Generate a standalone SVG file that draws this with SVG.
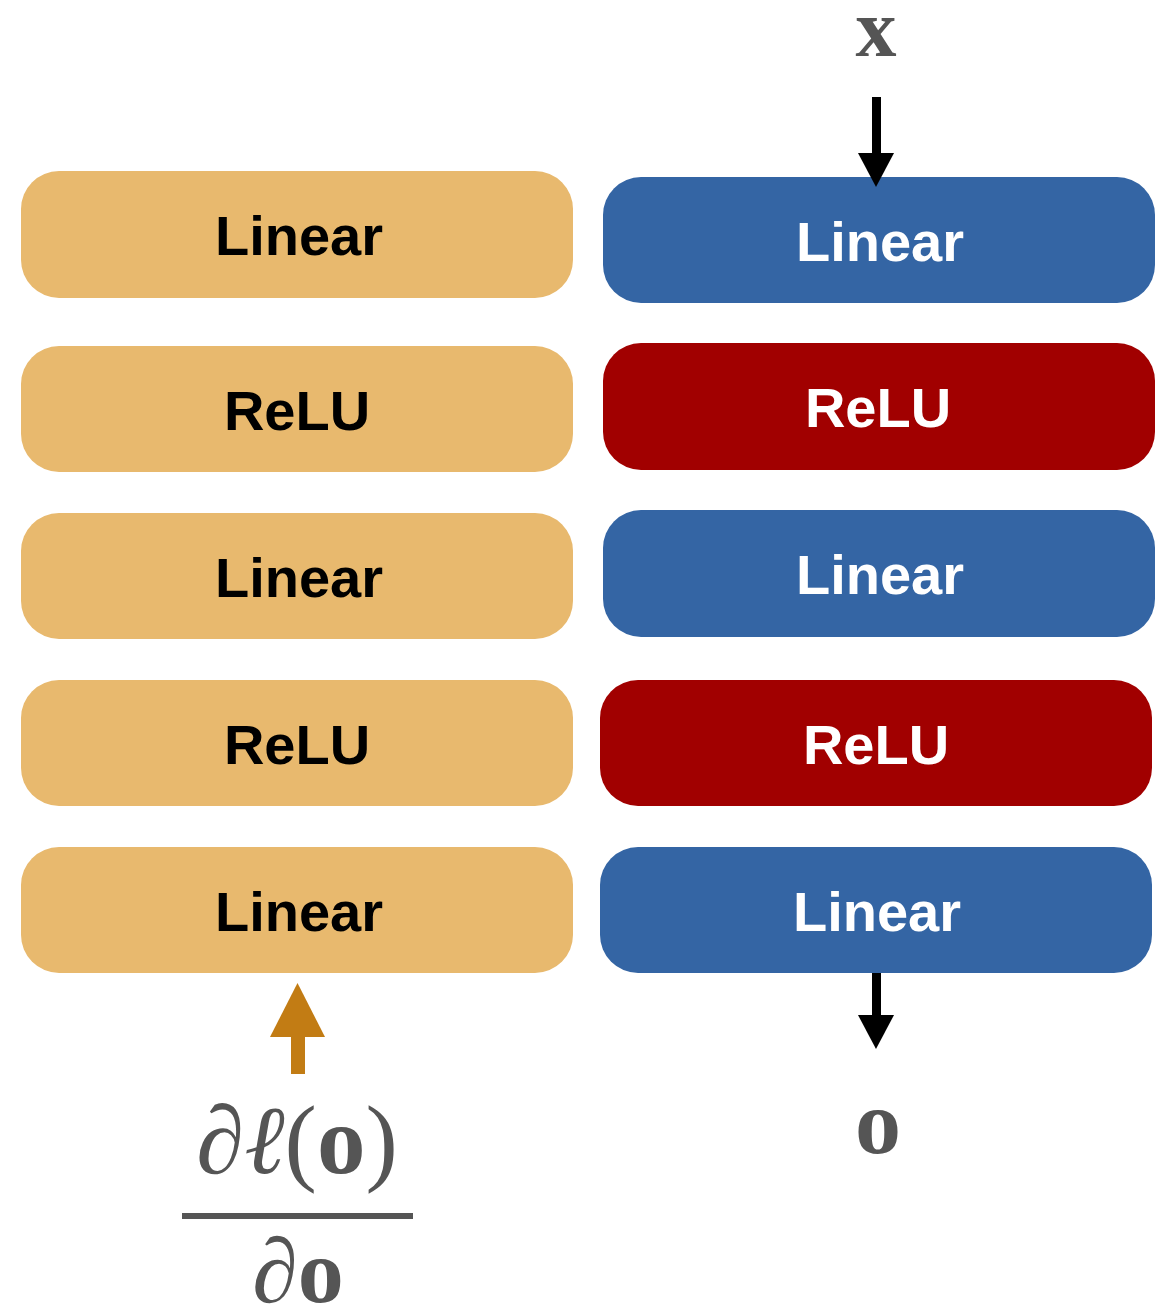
<svg xmlns="http://www.w3.org/2000/svg" width="1165" height="1313" viewBox="0 0 1165 1313">
<style>
.bk{fill:#E8B96E}
.lin{fill:#3465A4}
.rel{fill:#A10000}
.lbl{font-family:"Liberation Sans",Arial,sans-serif;font-weight:bold;font-size:56px;text-anchor:middle}
.dk{fill:#000}
.wt{fill:#fff}
.math{font-family:"Liberation Serif","DejaVu Serif",serif;fill:#555}
</style>
<g id="bwd1"><rect class="bk" x="21" y="171" width="552" height="127" rx="38"/><text class="lbl dk" x="299" y="255">Linear</text></g>
<g id="bwd2"><rect class="bk" x="21" y="346" width="552" height="126" rx="38"/><text class="lbl dk" x="297" y="430">ReLU</text></g>
<g id="bwd3"><rect class="bk" x="21" y="513" width="552" height="126" rx="38"/><text class="lbl dk" x="299" y="597">Linear</text></g>
<g id="bwd4"><rect class="bk" x="21" y="680" width="552" height="126" rx="38"/><text class="lbl dk" x="297" y="764">ReLU</text></g>
<g id="bwd5"><rect class="bk" x="21" y="847" width="552" height="126" rx="38"/><text class="lbl dk" x="299" y="931">Linear</text></g>
<g id="fwd1"><rect class="lin" x="603" y="177" width="552" height="126" rx="38"/><text class="lbl wt" x="880" y="261">Linear</text></g>
<g id="fwd2"><rect class="rel" x="603" y="343" width="552" height="127" rx="38"/><text class="lbl wt" x="878" y="427">ReLU</text></g>
<g id="fwd3"><rect class="lin" x="603" y="510" width="552" height="127" rx="38"/><text class="lbl wt" x="880" y="594">Linear</text></g>
<g id="fwd4"><rect class="rel" x="600" y="680" width="552" height="126" rx="38"/><text class="lbl wt" x="876" y="764">ReLU</text></g>
<g id="fwd5"><rect class="lin" x="600" y="847" width="552" height="126" rx="38"/><text class="lbl wt" x="877" y="931">Linear</text></g>
<g id="labels">
<text class="math" x="876" y="56" font-size="82" font-weight="bold" text-anchor="middle">x</text>
<text class="math" x="878" y="1153" font-size="92" font-weight="bold" text-anchor="middle">o</text>
<text class="math" x="297" y="1173" font-size="97" text-anchor="middle"><tspan font-style="italic">∂ℓ</tspan>(<tspan font-weight="bold">o</tspan>)</text>
<rect x="182" y="1213" width="231" height="6" fill="#555"/>
<text class="math" x="298" y="1302" font-size="92" text-anchor="middle"><tspan font-style="italic">∂</tspan><tspan font-weight="bold">o</tspan></text>
</g>
<g id="connectors">
<rect x="872" y="97" width="9" height="58" fill="#000"/>
<polygon points="858,153 894,153 876,187" fill="#000"/>
<rect x="872" y="973" width="9" height="44" fill="#000"/>
<polygon points="858,1015 894,1015 876,1049" fill="#000"/>
<rect x="291" y="1035" width="14" height="39" fill="#C27C14"/>
<polygon points="270,1037 325,1037 297.5,983" fill="#C27C14"/>
</g>
</svg>
